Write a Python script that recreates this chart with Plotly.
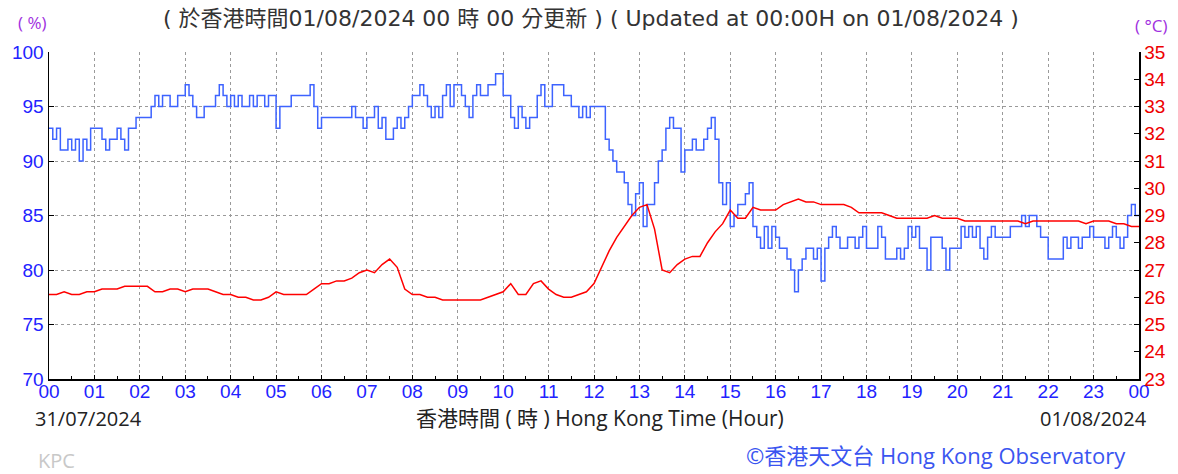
import numpy as np
import plotly.graph_objects as go

# Relative humidity (%), 5-minute readings, one list per hour
rh_h00 = [93, 92, 93, 91, 91, 92, 91, 92, 90, 92, 91, 93]
rh_h01 = [93, 93, 92, 91, 92, 92, 93, 92, 91, 93, 93, 94]
rh_h02 = [94, 94, 94, 95, 96, 95, 96, 96, 95, 95, 96, 96]
rh_h03 = [97, 96, 95, 94, 94, 95, 95, 95, 96, 97, 96, 95]
rh_h04 = [96, 95, 96, 95, 95, 96, 95, 96, 96, 95, 96, 96]
rh_h05 = [93, 95, 95, 95, 96, 96, 96, 96, 96, 97, 95, 93]
rh_h06 = [94, 94, 94, 94, 94, 94, 94, 94, 95, 94, 94, 93]
rh_h07 = [94, 94, 95, 93, 94, 92, 92, 93, 94, 93, 94, 95]
rh_h08 = [96, 96, 97, 96, 95, 94, 95, 94, 96, 97, 95, 97]
rh_h09 = [97, 96, 95, 94, 96, 97, 96, 96, 97, 97, 98, 98]
rh_h10 = [96, 96, 94, 93, 95, 94, 93, 94, 94, 96, 97, 95]
rh_h11 = [95, 97, 97, 97, 96, 96, 95, 95, 94, 95, 94, 95]
rh_h12 = [95, 95, 95, 92, 91, 90, 89, 89, 88, 86, 85, 87]
rh_h13 = [88, 84, 86, 86, 88, 90, 91, 93, 94, 93, 93, 89]
rh_h14 = [91, 91, 92, 91, 91, 92, 93, 94, 92, 88, 86, 88]
rh_h15 = [84, 85, 86, 86, 87, 88, 84, 83, 82, 84, 82, 84]
rh_h16 = [83, 82, 82, 81, 80, 78, 80, 81, 82, 82, 81, 82]
rh_h17 = [79, 82, 83, 84, 83, 82, 82, 83, 83, 82, 83, 84]
rh_h18 = [82, 82, 82, 84, 83, 81, 81, 81, 82, 81, 82, 84]
rh_h19 = [83, 84, 82, 82, 80, 83, 83, 83, 82, 80, 82, 82]
rh_h20 = [82, 84, 83, 84, 83, 84, 82, 81, 83, 84, 83, 83]
rh_h21 = [83, 83, 84, 84, 84, 85, 84, 85, 85, 84, 83, 83]
rh_h22 = [81, 81, 81, 81, 83, 82, 83, 83, 82, 83, 83, 84]
rh_h23 = [83, 83, 83, 82, 83, 84, 83, 82, 83, 85, 86, 85]
rh_end = [85]

# Temperature (deg C), 10-minute readings, one list per hour
t_h00 = [26.1, 26.1, 26.2, 26.1, 26.1, 26.2]
t_h01 = [26.2, 26.3, 26.3, 26.3, 26.4, 26.4]
t_h02 = [26.4, 26.4, 26.2, 26.2, 26.3, 26.3]
t_h03 = [26.2, 26.3, 26.3, 26.3, 26.2, 26.1]
t_h04 = [26.1, 26.0, 26.0, 25.9, 25.9, 26.0]
t_h05 = [26.2, 26.1, 26.1, 26.1, 26.1, 26.3]
t_h06 = [26.5, 26.5, 26.6, 26.6, 26.7, 26.9]
t_h07 = [27.0, 26.9, 27.2, 27.4, 27.1, 26.3]
t_h08 = [26.1, 26.1, 26.0, 26.0, 25.9, 25.9]
t_h09 = [25.9, 25.9, 25.9, 25.9, 26.0, 26.1]
t_h10 = [26.2, 26.5, 26.1, 26.1, 26.5, 26.6]
t_h11 = [26.3, 26.1, 26.0, 26.0, 26.1, 26.2]
t_h12 = [26.5, 27.1, 27.7, 28.2, 28.6, 29.0]
t_h13 = [29.3, 29.4, 28.5, 27.0, 26.9, 27.2]
t_h14 = [27.4, 27.5, 27.5, 28.0, 28.4, 28.7]
t_h15 = [29.2, 28.9, 28.9, 29.3, 29.2, 29.2]
t_h16 = [29.2, 29.4, 29.5, 29.6, 29.5, 29.5]
t_h17 = [29.4, 29.4, 29.4, 29.4, 29.3, 29.1]
t_h18 = [29.1, 29.1, 29.1, 29.0, 28.9, 28.9]
t_h19 = [28.9, 28.9, 28.9, 29.0, 28.9, 28.9]
t_h20 = [28.9, 28.8, 28.8, 28.8, 28.8, 28.8]
t_h21 = [28.8, 28.8, 28.8, 28.7, 28.8, 28.8]
t_h22 = [28.8, 28.8, 28.8, 28.8, 28.8, 28.7]
t_h23 = [28.8, 28.8, 28.8, 28.7, 28.7, 28.6]
t_end = [28.6]

hour_labels = ["%02d" % h for h in range(24)] + ["00"]

rh = (rh_h00 + rh_h01 + rh_h02 + rh_h03 + rh_h04 + rh_h05 + rh_h06 + rh_h07 +
      rh_h08 + rh_h09 + rh_h10 + rh_h11 + rh_h12 + rh_h13 + rh_h14 + rh_h15 +
      rh_h16 + rh_h17 + rh_h18 + rh_h19 + rh_h20 + rh_h21 + rh_h22 + rh_h23 + rh_end)
temp = (t_h00 + t_h01 + t_h02 + t_h03 + t_h04 + t_h05 + t_h06 + t_h07 +
        t_h08 + t_h09 + t_h10 + t_h11 + t_h12 + t_h13 + t_h14 + t_h15 +
        t_h16 + t_h17 + t_h18 + t_h19 + t_h20 + t_h21 + t_h22 + t_h23 + t_end)

rh_x = np.arange(len(rh)) / 12.0
t_x = np.arange(len(temp)) / 6.0

W, H = 1178, 474
ML, MR, MT, MB = 47, 37, 52, 95
PW, PH = W - ML - MR, H - MT - MB

def px(x):
    return (x - ML) / PW

def py(y):
    return (H - MB - y) / PH

fig = go.Figure()
fig.add_trace(go.Scatter(x=rh_x, y=rh, mode="lines", yaxis="y",
                         line=dict(color="#3d63ff", width=1.5, shape="hv"),
                         hoverinfo="skip", showlegend=False))
fig.add_trace(go.Scatter(x=t_x, y=temp, mode="lines", yaxis="y2",
                         line=dict(color="#ff0000", width=1.5),
                         hoverinfo="skip", showlegend=False))

tickfont = "Liberation Sans, Arial, sans-serif"
grid = dict(gridcolor="#9a9a9a", gridwidth=1, griddash="3px,3px")

fig.update_layout(
    width=W, height=H,
    margin=dict(l=ML, r=MR, t=MT, b=MB, pad=0),
    paper_bgcolor="white", plot_bgcolor="white",
    xaxis=dict(range=[0, 24], tickmode="array", tickvals=list(range(25)),
               ticktext=hour_labels, showgrid=True, **grid,
               showline=True, linecolor="black", linewidth=1.5,
               ticks="inside", ticklen=4, tickcolor="black",
               ticklabelstandoff=-5,
               minor=dict(ticks="inside", ticklen=3, dtick=0.5, tick0=0,
                          tickcolor="black", showgrid=False),
               tickfont=dict(family=tickfont, size=19, color="#2222ff"),
               zeroline=False, fixedrange=True),
    yaxis=dict(range=[70, 100], tick0=70, dtick=5, showgrid=True, **grid,
               showline=True, linecolor="black", linewidth=1.5,
               ticks="inside", ticklen=5, tickcolor="black",
               tickfont=dict(family=tickfont, size=19, color="#2222ff"),
               zeroline=False, fixedrange=True),
    yaxis2=dict(range=[23, 35], tick0=23, dtick=1, overlaying="y", side="right",
                showgrid=False, showline=True, linecolor="black", linewidth=1.5,
                ticks="inside", ticklen=5, tickcolor="black",
                tickfont=dict(family=tickfont, size=19, color="#ee0000"),
                zeroline=False, fixedrange=True),
)

latin = "Open Sans, Noto Sans CJK TC, sans-serif"
title_font = "DejaVu Sans, Noto Sans CJK TC, sans-serif"
ann = [
    dict(text="( 於香港時間01/08/2024 00 時 00 分更新 ) ( Updated at 00:00H on 01/08/2024 )",
         x=px(591), y=py(18), size=22, color="#333333", family=title_font),
    dict(text="( %)", x=px(30), y=py(22), size=17, color="#a030e0", family=latin),
    dict(text="( °C)", x=px(1153), y=py(26), size=17, color="#a030e0", family=latin),
    dict(text="31/07/2024", x=px(87), y=py(418), size=20, color="#222222", family=latin),
    dict(text="香港時間 ( 時 ) Hong Kong Time (Hour)", x=px(600), y=py(418), size=21, color="#222222", family=latin),
    dict(text="01/08/2024", x=px(1095), y=py(418), size=20, color="#222222", family=latin),
    dict(text="KPC", x=px(55), y=py(460), size=20, color="#c8c8c8", family=latin),
    dict(text="©香港天文台 Hong Kong Observatory", x=px(937), y=py(455), size=22, color="#3a55f0", family=latin),
]
for a in ann:
    fig.add_annotation(text=a["text"], x=a["x"], y=a["y"], xref="paper", yref="paper",
                       xanchor="center", yanchor="middle", showarrow=False,
                       font=dict(family=a["family"], size=a["size"], color=a["color"]))

fig.write_html("out.html", config={"displayModeBar": False, "staticPlot": True},
               post_script="document.body.style.margin='0';document.body.style.overflow='hidden';")
